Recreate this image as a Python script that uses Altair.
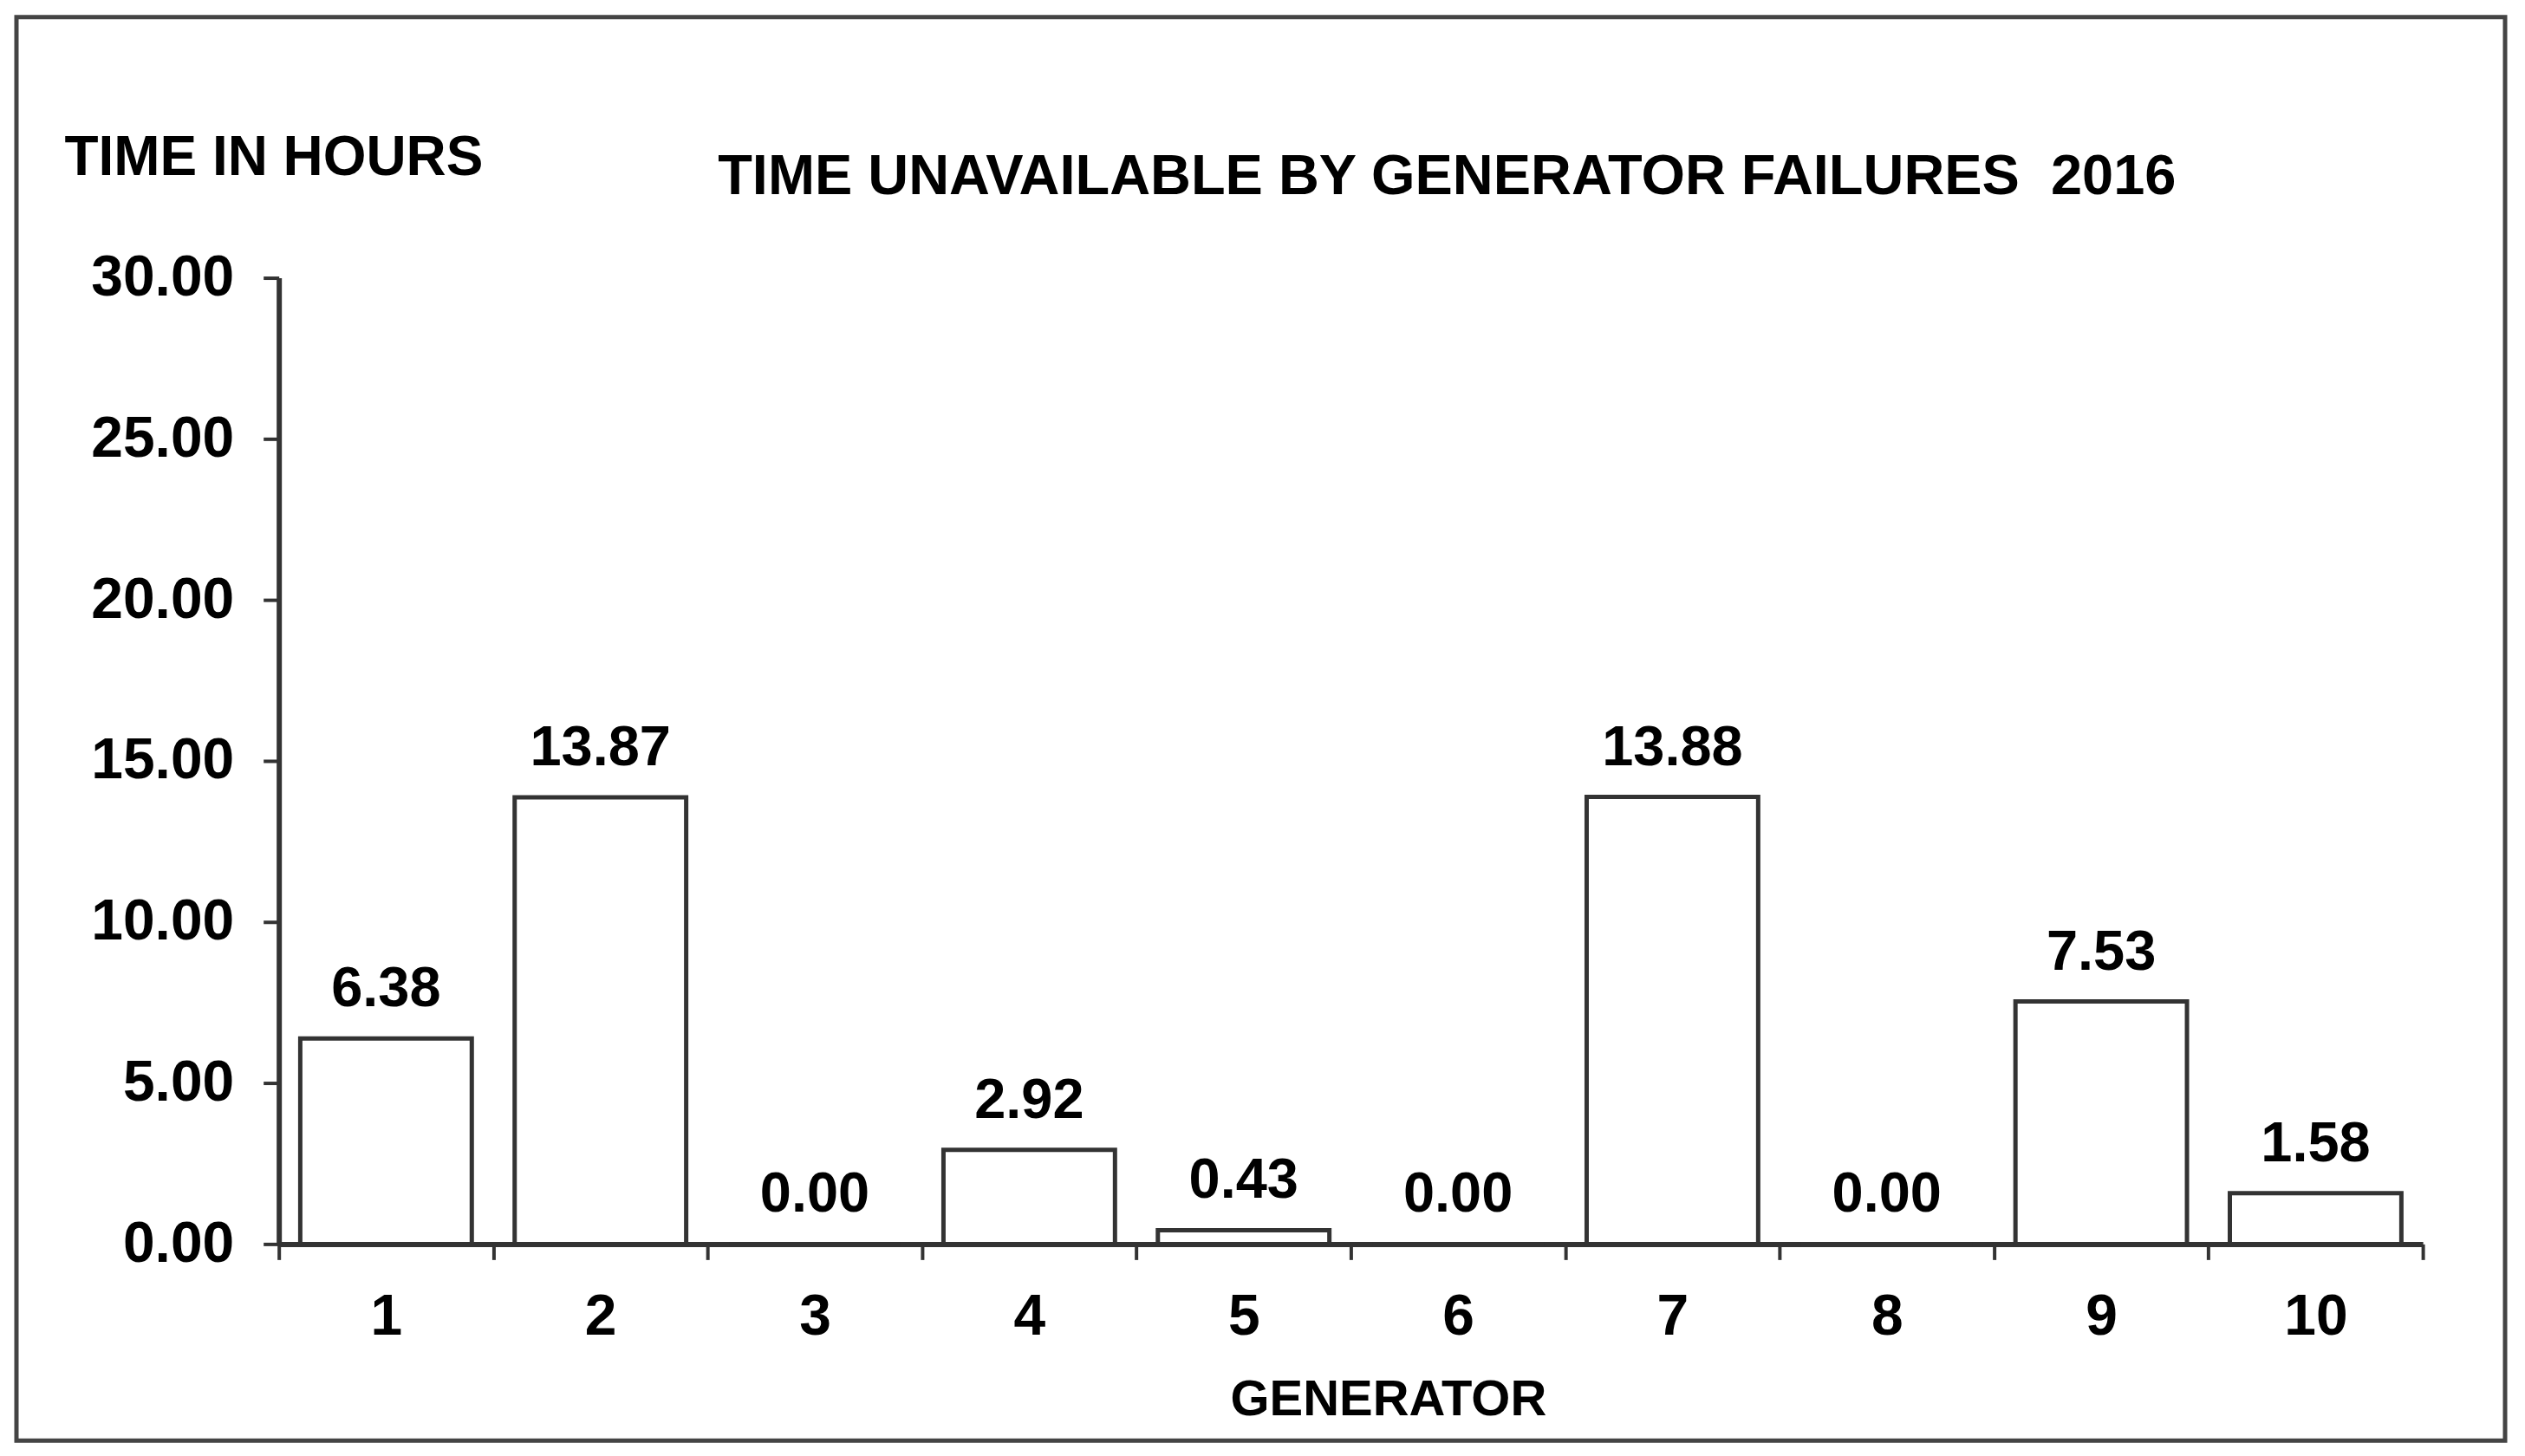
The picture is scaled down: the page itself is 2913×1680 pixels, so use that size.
import altair as alt
import pandas as pd

generators = ["1", "2", "3", "4", "5", "6", "7", "8", "9", "10"]
hours = [6.38, 13.87, 0.00, 2.92, 0.43, 0.00, 13.88, 0.00, 7.53, 1.58]
y_ticks = [0, 5, 10, 15, 20, 25, 30]

df = pd.DataFrame({"generator": generators, "hours": hours})

FONT = "Liberation Sans"
AX = "#333333"

x_enc = alt.X(
    "generator:N",
    sort=generators,
    scale=alt.Scale(paddingInner=0, paddingOuter=0),
    axis=alt.Axis(
        title="GENERATOR",
        tickBand="extent",
        labelAngle=0,
        labelFont=FONT, labelFontSize=66, labelFontWeight="bold", labelColor="black",
        labelPadding=34,
        tickSize=18, tickWidth=4, tickColor=AX,
        domainColor=AX, domainWidth=6,
        titleFont=FONT, titleFontSize=58, titleFontWeight="bold", titleColor="black",
        titleX=1281, titleY=180, titleAlign="center", titleBaseline="middle",
        grid=False,
    ),
)
y_enc = alt.Y(
    "hours:Q",
    scale=alt.Scale(domain=[0, 30], nice=False),
    axis=alt.Axis(
        title="TIME IN HOURS",
        values=y_ticks,
        format=".2f",
        labelFont=FONT, labelFontSize=66, labelFontWeight="bold", labelColor="black",
        labelPadding=34,
        tickSize=18, tickWidth=4, tickColor=AX,
        domainColor=AX, domainWidth=6,
        titleFont=FONT, titleFontSize=64, titleFontWeight="bold", titleColor="black",
        titleAngle=0, titleX=-248, titleY=-138, titleAlign="left", titleBaseline="middle",
        grid=False,
    ),
)

base = alt.Chart(df)

bars = base.mark_bar(
    fill="white", stroke="#333333", strokeWidth=5, width=alt.RelativeBandSize(0.8)
).encode(x=x_enc, y=y_enc)

labels = base.mark_text(
    font=FONT, fontSize=65, fontWeight="bold", color="black",
    baseline="alphabetic", dy=-37,
).encode(x=x_enc, y=y_enc, text=alt.Text("hours:Q", format=".2f"))

border = alt.Chart(pd.DataFrame({"b": [0]})).mark_rect(
    fill="transparent", stroke="#444444", strokeWidth=5
).encode(
    x=alt.value(-303), x2=alt.value(2571), y=alt.value(-301), y2=alt.value(1343)
)

chart = alt.layer(border, bars, labels).properties(
    width=2476,
    height=1116,
    title=alt.TitleParams(
        "TIME UNAVAILABLE BY GENERATOR FAILURES\u00a0 2016",
        font=FONT, fontSize=65, fontWeight="bold", color="black",
        anchor="middle", frame="group", baseline="middle",
        offset=0, dx=111, dy=252,
    ),
    autosize=alt.AutoSizeParams(type="none"),
    padding={"left": 314, "top": 312, "right": 110, "bottom": 230},
).configure_view(strokeWidth=0)

chart.save("out.html", embed_options={"renderer": "svg", "actions": False})
